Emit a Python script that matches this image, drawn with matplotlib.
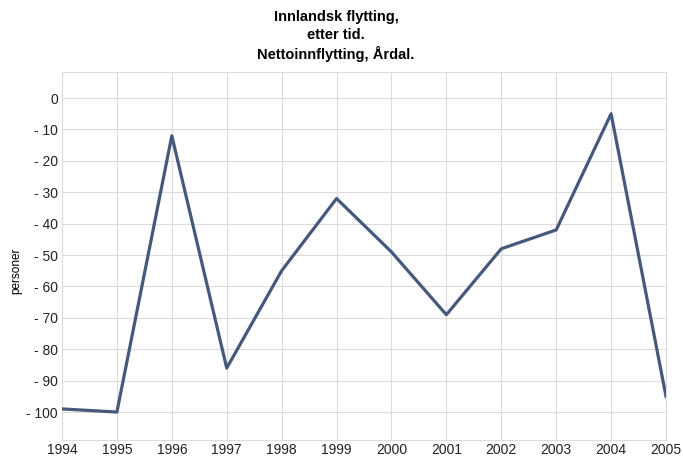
import matplotlib.pyplot as plt

years = [1994, 1995, 1996, 1997, 1998, 1999, 2000, 2001, 2002, 2003, 2004, 2005]
netto = [-99, -100, -12, -86, -55, -32, -49, -69, -48, -42, -5, -95]
yticks = [0, -10, -20, -30, -40, -50, -60, -70, -80, -90, -100]

plt.rcParams['font.family'] = ['Liberation Sans', 'DejaVu Sans']

fig = plt.figure(figsize=(6.83, 4.57), dpi=100)
ax = fig.add_axes([62 / 683, 1 - 440 / 457, (666 - 62) / 683, (440 - 72) / 457])

ax.plot(years, netto, color='#46587c', linewidth=2.3, solid_joinstyle='round', zorder=3)

ax.set_xlim(1994, 2005)
ax.set_ylim(-108.9, 8.3)
ax.set_xticks(years)
ax.set_xticklabels([str(y) for y in years], fontsize=10)
ax.set_yticks(yticks)
ax.set_yticklabels(['0' if v == 0 else '- %d' % abs(v) for v in yticks], fontsize=10)
ax.tick_params(axis='y', length=0, pad=3, colors='#222222')
ax.tick_params(axis='x', length=0, pad=2, colors='#222222')
ax.grid(True, color='#dcdcdc', linewidth=0.8, zorder=0)
for s in ax.spines.values():
    s.set_color('#dcdcdc')
    s.set_linewidth(0.8)

fig.text(16 / 683, 1 - 271 / 457, 'personer', rotation=90, fontsize=8.5,
         ha='center', va='center')
fig.text(336 / 683, 1 - 36 / 457, 'Innlandsk flytting,\netter tid.\nNettoinnflytting, Årdal.',
         ha='center', va='center', fontsize=10.5, fontweight='bold',
         family=['Liberation Sans Narrow', 'Liberation Sans'], linespacing=1.3)

fig.savefig('out.png', dpi=100)
